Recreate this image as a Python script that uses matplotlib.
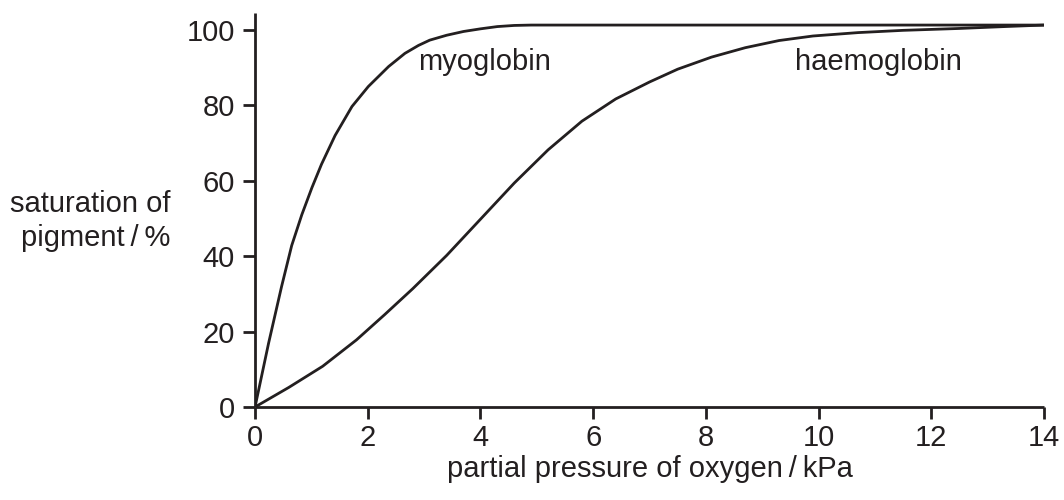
import matplotlib
matplotlib.use("Agg")
import matplotlib.pyplot as plt

plt.rcParams['font.family'] = ['Liberation Sans', 'DejaVu Sans']

# values
pressure_myo = [0, 0.24, 0.47, 0.65, 0.83, 1.01, 1.18, 1.42, 1.72, 2.01, 2.37,
                2.66, 2.9, 3.1, 3.4, 3.7, 4.0, 4.3, 4.6, 4.9, 14]
sat_myo = [0, 16.9, 31.9, 42.8, 51.0, 58.2, 64.4, 72.0, 79.7, 85, 90.3,
           93.8, 95.9, 97.3, 98.6, 99.6, 100.3, 100.9, 101.2, 101.3, 101.3]

pressure_haem = [0, 0.6, 1.2, 1.8, 2.3, 2.8, 3.4, 4.0, 4.6, 5.2, 5.8, 6.4,
                 7.0, 7.5, 8.1, 8.7, 9.3, 9.9, 10.7, 11.5, 12.5, 13.3, 14]
sat_haem = [0, 5.2, 10.8, 17.8, 24.5, 31.4, 40.2, 49.8, 59.4, 68.2, 75.8, 81.7,
            86.2, 89.6, 92.8, 95.3, 97.2, 98.4, 99.3, 99.9, 100.4, 100.9, 101.3]

x_ticks = [0, 2, 4, 6, 8, 10, 12, 14]
y_ticks = [0, 20, 40, 60, 80, 100]

ink = "#231f20"
fig = plt.figure(figsize=(10.64, 5), dpi=100)
ax = fig.add_axes([0.2397, 0.186, 0.7415, 0.788])

ax.plot(pressure_myo, sat_myo, color=ink, lw=2.0, solid_capstyle="butt", solid_joinstyle="round")
ax.plot(pressure_haem, sat_haem, color=ink, lw=2.0, solid_capstyle="butt", solid_joinstyle="round")

ax.text(4.08, 91.5, "myoglobin", fontsize=21, color=ink, ha="center", va="center")
ax.text(11.07, 91.5, "haemoglobin", fontsize=21, color=ink, ha="center", va="center")

ax.set_xlim(0, 14)
ax.set_ylim(0, 104.5)
ax.set_xticks(x_ticks)
ax.set_yticks(y_ticks)
ax.tick_params(labelsize=21, length=8.6, width=2.0, colors=ink)
ax.tick_params(axis="y", pad=6)
ax.tick_params(axis="x", pad=4)
for s in ["top", "right"]:
    ax.spines[s].set_visible(False)
for s in ["left", "bottom"]:
    ax.spines[s].set_linewidth(2.0)
    ax.spines[s].set_color(ink)
    ax.spines[s].set_capstyle("butt")

ax.set_xlabel("partial pressure of oxygen\u2009/\u2009kPa", fontsize=21, color=ink, labelpad=2)
fig.text(170 / 1064, 1 - 221 / 500, "saturation of\npigment\u2009/\u2009%", fontsize=21,
         color=ink, ha="right", va="center", multialignment="right", linespacing=1.25)

fig.savefig("out.png", dpi=100)
